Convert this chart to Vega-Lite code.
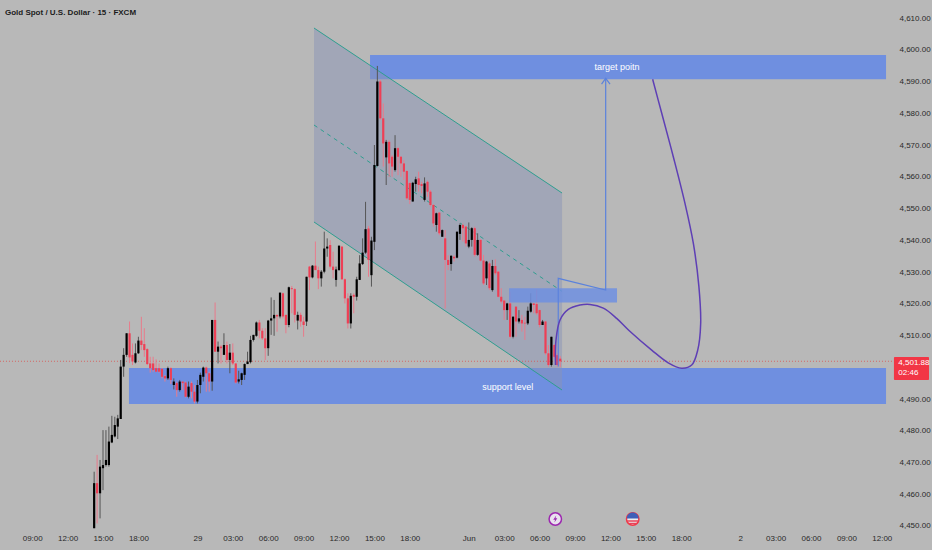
{
  "$schema": "https://vega.github.io/schema/vega-lite/v6.json",
  "description": "Gold Spot / U.S. Dollar 15 minute candles with a falling channel and support and target zones",
  "width": 890,
  "height": 530,
  "autosize": "none",
  "padding": {"left": 0, "top": 0, "right": 42, "bottom": 20},
  "background": "#b8b8b8",
  "view": {"stroke": null},
  "config": {"font": "Liberation Sans"},
  "datasets": {
    "candles": [
      {"t":14.25,"o":4449.3,"h":4467.1,"l":4449.3,"c":4463.5},
      {"t":14.5,"o":4463.5,"h":4472.4,"l":4450.8,"c":4460.3},
      {"t":14.75,"o":4460.3,"h":4470.8,"l":4452.4,"c":4468.7},
      {"t":15,"o":4468.2,"h":4480.2,"l":4461.3,"c":4469.2},
      {"t":15.25,"o":4469.2,"h":4480.2,"l":4468.7,"c":4470.8},
      {"t":15.5,"o":4469.2,"h":4481.3,"l":4468.7,"c":4476.6},
      {"t":15.75,"o":4476.3,"h":4484.7,"l":4476.1,"c":4478.7},
      {"t":16,"o":4478.2,"h":4484.4,"l":4477.9,"c":4481.8},
      {"t":16.25,"o":4481.3,"h":4485,"l":4477.4,"c":4483.9},
      {"t":16.5,"o":4483.7,"h":4502.3,"l":4483.7,"c":4500.2},
      {"t":16.75,"o":4500.2,"h":4506,"l":4497,"c":4503.9},
      {"t":17,"o":4503.9,"h":4510.7,"l":4503.3,"c":4510.7},
      {"t":17.25,"o":4510.7,"h":4514.4,"l":4501.3,"c":4503.1},
      {"t":17.5,"o":4503.9,"h":4507.5,"l":4500.7,"c":4501.8},
      {"t":17.75,"o":4501.5,"h":4507.5,"l":4501.2,"c":4504.4},
      {"t":18,"o":4504.4,"h":4509.6,"l":4504.2,"c":4508.4},
      {"t":18.25,"o":4508.4,"h":4515.9,"l":4505.4,"c":4507},
      {"t":18.5,"o":4507.3,"h":4512.3,"l":4503.3,"c":4505.4},
      {"t":18.75,"o":4505.7,"h":4506,"l":4500.7,"c":4501},
      {"t":19,"o":4501.2,"h":4503.3,"l":4498.3,"c":4499.7},
      {"t":19.25,"o":4501.2,"h":4503.3,"l":4498.6,"c":4499.1},
      {"t":19.5,"o":4499.7,"h":4502.5,"l":4498.6,"c":4498.6},
      {"t":19.75,"o":4499.7,"h":4501.2,"l":4498.3,"c":4498.6},
      {"t":20,"o":4499.5,"h":4499.7,"l":4496.5,"c":4497},
      {"t":20.25,"o":4497.2,"h":4497.6,"l":4495.5,"c":4496.5},
      {"t":20.5,"o":4496.5,"h":4500.2,"l":4496,"c":4499.7},
      {"t":20.75,"o":4499.7,"h":4500,"l":4494.7,"c":4496},
      {"t":21,"o":4494.4,"h":4496.5,"l":4493,"c":4495.5},
      {"t":21.25,"o":4495,"h":4495.5,"l":4490.7,"c":4492.8},
      {"t":21.5,"o":4492.8,"h":4496,"l":4492.3,"c":4495.5},
      {"t":21.75,"o":4495.5,"h":4495.5,"l":4492.8,"c":4495},
      {"t":22,"o":4495.2,"h":4495.5,"l":4490.5,"c":4490.7},
      {"t":22.25,"o":4490.7,"h":4495.5,"l":4490.2,"c":4493.9},
      {"t":22.5,"o":4495,"h":4495.5,"l":4490.2,"c":4492.3},
      {"t":22.75,"o":4492.3,"h":4494.4,"l":4488.6,"c":4489.2},
      {"t":23,"o":4489.2,"h":4496,"l":4488.6,"c":4494.4},
      {"t":23.25,"o":4494.4,"h":4498.3,"l":4491.8,"c":4497.6},
      {"t":23.5,"o":4497,"h":4500.2,"l":4495.5,"c":4499.9},
      {"t":23.75,"o":4499.9,"h":4500.2,"l":4492.3,"c":4498.1},
      {"t":24,"o":4498.1,"h":4498.6,"l":4492.3,"c":4495.5},
      {"t":24.25,"o":4495.5,"h":4514.9,"l":4492.6,"c":4514.9},
      {"t":24.5,"o":4514.9,"h":4520.4,"l":4504.9,"c":4504.9},
      {"t":24.75,"o":4504.9,"h":4508.1,"l":4501.2,"c":4506.5},
      {"t":25,"o":4506.5,"h":4507,"l":4501.2,"c":4506},
      {"t":25.25,"o":4503.9,"h":4510.7,"l":4503.9,"c":4507},
      {"t":25.5,"o":4507,"h":4508.1,"l":4501.2,"c":4502.3},
      {"t":25.75,"o":4502.3,"h":4507.3,"l":4498.1,"c":4504.6},
      {"t":26,"o":4504.6,"h":4507.5,"l":4500.7,"c":4501.2},
      {"t":26.25,"o":4501.2,"h":4501.2,"l":4494.9,"c":4495.2},
      {"t":26.5,"o":4495.5,"h":4498.9,"l":4494.9,"c":4496.2},
      {"t":26.75,"o":4496,"h":4498.3,"l":4494.4,"c":4498.1},
      {"t":27,"o":4497.6,"h":4501.2,"l":4496,"c":4501},
      {"t":27.25,"o":4501,"h":4504.9,"l":4501,"c":4501.8},
      {"t":27.5,"o":4501.6,"h":4509.9,"l":4501.2,"c":4508.6},
      {"t":27.75,"o":4508.6,"h":4510.2,"l":4508.1,"c":4510.2},
      {"t":28,"o":4509.9,"h":4514.4,"l":4509.6,"c":4514.1},
      {"t":28.25,"o":4514.1,"h":4514.9,"l":4509.1,"c":4511.5},
      {"t":28.5,"o":4511.5,"h":4512.3,"l":4508.6,"c":4509.1},
      {"t":28.75,"o":4509.1,"h":4512.3,"l":4502.3,"c":4506},
      {"t":29,"o":4506,"h":4514.9,"l":4503.6,"c":4514.7},
      {"t":29.25,"o":4514.7,"h":4522,"l":4510.2,"c":4515.4},
      {"t":29.5,"o":4515.4,"h":4521.2,"l":4509.9,"c":4516.5},
      {"t":29.75,"o":4516.5,"h":4516.5,"l":4511.2,"c":4516},
      {"t":30,"o":4516,"h":4523.5,"l":4515.4,"c":4523.5},
      {"t":30.25,"o":4523.3,"h":4523.5,"l":4515.4,"c":4516},
      {"t":30.5,"o":4516.5,"h":4516.5,"l":4510.7,"c":4513.3},
      {"t":30.75,"o":4513.3,"h":4525.4,"l":4512.6,"c":4525.2},
      {"t":31,"o":4524.9,"h":4525.6,"l":4517,"c":4524.6},
      {"t":31.25,"o":4524.6,"h":4524.9,"l":4514.1,"c":4516.5},
      {"t":31.5,"o":4514.7,"h":4517.5,"l":4511.9,"c":4516.5},
      {"t":31.75,"o":4516.5,"h":4517.2,"l":4512.8,"c":4514.4},
      {"t":32,"o":4514.4,"h":4515.9,"l":4509.6,"c":4513.3},
      {"t":32.25,"o":4514.4,"h":4528.5,"l":4513,"c":4528.5},
      {"t":32.5,"o":4531.7,"h":4531.9,"l":4524.3,"c":4528.3},
      {"t":32.75,"o":4528.3,"h":4532.2,"l":4528,"c":4532},
      {"t":33,"o":4532,"h":4539.6,"l":4530.6,"c":4530.6},
      {"t":33.25,"o":4530.6,"h":4531.7,"l":4524.6,"c":4528},
      {"t":33.5,"o":4528,"h":4530.6,"l":4525.4,"c":4530.1},
      {"t":33.75,"o":4530.1,"h":4542.7,"l":4529.6,"c":4537.4},
      {"t":34,"o":4537.4,"h":4540.6,"l":4534.8,"c":4538},
      {"t":34.25,"o":4538.5,"h":4540,"l":4531.1,"c":4531.7},
      {"t":34.5,"o":4531.7,"h":4536.4,"l":4528,"c":4530.6},
      {"t":34.75,"o":4527.5,"h":4531.7,"l":4525.4,"c":4530.8},
      {"t":35,"o":4530.6,"h":4538.3,"l":4530.4,"c":4538.3},
      {"t":35.25,"o":4538,"h":4538.2,"l":4527.5,"c":4527.7},
      {"t":35.5,"o":4527.7,"h":4528,"l":4520.1,"c":4521.7},
      {"t":35.75,"o":4521.7,"h":4523.3,"l":4512.2,"c":4513.8},
      {"t":36,"o":4513.8,"h":4523.3,"l":4512.2,"c":4522.5},
      {"t":36.25,"o":4522.8,"h":4523.3,"l":4517,"c":4522.2},
      {"t":36.5,"o":4522.2,"h":4528.5,"l":4521,"c":4527.7},
      {"t":36.75,"o":4527.5,"h":4535.3,"l":4527.5,"c":4532.7},
      {"t":37,"o":4532.5,"h":4540.6,"l":4532.2,"c":4536.1},
      {"t":37.25,"o":4536.1,"h":4552.1,"l":4535.7,"c":4543.5},
      {"t":37.5,"o":4543.7,"h":4544.5,"l":4528.5,"c":4533.8},
      {"t":37.75,"o":4529,"h":4541.1,"l":4525.4,"c":4539.9},
      {"t":38,"o":4539.5,"h":4570,"l":4536.9,"c":4563.7},
      {"t":38.25,"o":4563.4,"h":4594.9,"l":4563.2,"c":4590},
      {"t":38.5,"o":4590,"h":4590.5,"l":4577.9,"c":4578.4},
      {"t":38.75,"o":4578.4,"h":4583.1,"l":4563.2,"c":4570.5},
      {"t":39,"o":4566.1,"h":4571.6,"l":4557.4,"c":4571},
      {"t":39.25,"o":4571,"h":4571.6,"l":4560,"c":4564.2},
      {"t":39.5,"o":4566.3,"h":4566.8,"l":4560,"c":4563.2},
      {"t":39.75,"o":4562.1,"h":4573.1,"l":4561.6,"c":4569},
      {"t":40,"o":4569,"h":4569.3,"l":4560.5,"c":4566.3},
      {"t":40.25,"o":4566.3,"h":4566.5,"l":4560,"c":4564.2},
      {"t":40.5,"o":4564.2,"h":4565.3,"l":4559,"c":4561.6},
      {"t":40.75,"o":4561.8,"h":4562.1,"l":4552.7,"c":4553.2},
      {"t":41,"o":4558,"h":4558.4,"l":4551.4,"c":4552.7},
      {"t":41.25,"o":4552.2,"h":4558.4,"l":4552.2,"c":4558.1},
      {"t":41.5,"o":4557.7,"h":4560,"l":4555.3,"c":4559.2},
      {"t":41.75,"o":4559.5,"h":4561.6,"l":4555.3,"c":4557.4},
      {"t":42,"o":4557.7,"h":4558.4,"l":4554.8,"c":4557.1},
      {"t":42.25,"o":4552.7,"h":4559.8,"l":4552.2,"c":4557.9},
      {"t":42.5,"o":4558.4,"h":4558.8,"l":4553.7,"c":4555.3},
      {"t":42.75,"o":4555.3,"h":4555.8,"l":4550.6,"c":4551.1},
      {"t":43,"o":4551.1,"h":4551.4,"l":4544.3,"c":4545.3},
      {"t":43.25,"o":4544.8,"h":4548.7,"l":4542.7,"c":4548.5},
      {"t":43.5,"o":4548.7,"h":4548.9,"l":4541.6,"c":4542.2},
      {"t":43.75,"o":4541.1,"h":4543.4,"l":4541.1,"c":4543.2},
      {"t":44,"o":4540.6,"h":4543.2,"l":4518.5,"c":4533.8},
      {"t":44.25,"o":4533.8,"h":4535.3,"l":4530.6,"c":4532.2},
      {"t":44.5,"o":4532.5,"h":4535.3,"l":4530.4,"c":4535.1},
      {"t":44.75,"o":4534.8,"h":4535.3,"l":4533.3,"c":4534.3},
      {"t":45,"o":4534.5,"h":4542.7,"l":4534.3,"c":4542.7},
      {"t":45.25,"o":4542,"h":4545.3,"l":4540.1,"c":4544.8},
      {"t":45.5,"o":4544.8,"h":4545.3,"l":4539.6,"c":4543.8},
      {"t":45.75,"o":4544.3,"h":4544.5,"l":4538,"c":4539},
      {"t":46,"o":4538,"h":4545.6,"l":4537.5,"c":4540.1},
      {"t":46.25,"o":4540.1,"h":4544.1,"l":4538,"c":4543.8},
      {"t":46.5,"o":4543.8,"h":4544.3,"l":4534.8,"c":4535.4},
      {"t":46.75,"o":4535.4,"h":4542.2,"l":4535.1,"c":4540.1},
      {"t":47,"o":4540.1,"h":4540.3,"l":4533.3,"c":4533.6},
      {"t":47.25,"o":4533.6,"h":4535.4,"l":4525.9,"c":4526.4},
      {"t":47.5,"o":4528,"h":4533.5,"l":4525.9,"c":4533.3},
      {"t":47.75,"o":4532.7,"h":4533.3,"l":4524.3,"c":4524.9},
      {"t":48,"o":4524.3,"h":4533.8,"l":4523.8,"c":4531.9},
      {"t":48.25,"o":4531.9,"h":4534,"l":4529,"c":4529.6},
      {"t":48.5,"o":4530.1,"h":4530.3,"l":4522,"c":4522.2},
      {"t":48.75,"o":4522.2,"h":4524.9,"l":4520.1,"c":4520.7},
      {"t":49,"o":4521,"h":4521.2,"l":4514.9,"c":4518},
      {"t":49.25,"o":4518,"h":4520.3,"l":4514.9,"c":4520.1},
      {"t":49.5,"o":4520.1,"h":4523.8,"l":4509.1,"c":4509.6},
      {"t":49.75,"o":4509.6,"h":4516.1,"l":4509.1,"c":4515.9},
      {"t":50,"o":4519.1,"h":4519.1,"l":4509.6,"c":4514.4},
      {"t":50.25,"o":4514.4,"h":4518,"l":4513.8,"c":4515.4},
      {"t":50.5,"o":4514.9,"h":4516.5,"l":4511.2,"c":4513.8},
      {"t":50.75,"o":4514,"h":4515.9,"l":4508.6,"c":4513.8},
      {"t":51,"o":4513.8,"h":4519.1,"l":4513.3,"c":4517.8},
      {"t":51.25,"o":4517.5,"h":4523.3,"l":4517.2,"c":4520.1},
      {"t":51.5,"o":4520.1,"h":4520.1,"l":4517,"c":4519.6},
      {"t":51.75,"o":4519.9,"h":4524.5,"l":4516.5,"c":4517},
      {"t":52,"o":4518,"h":4518.2,"l":4512.6,"c":4513.3},
      {"t":52.25,"o":4513.3,"h":4514.9,"l":4513.3,"c":4514.4},
      {"t":52.5,"o":4514.4,"h":4514.6,"l":4503.9,"c":4504.4},
      {"t":52.75,"o":4504.4,"h":4507,"l":4500.2,"c":4500.7},
      {"t":53,"o":4500.7,"h":4509.6,"l":4500.2,"c":4509.6},
      {"t":53.25,"o":4507,"h":4507.3,"l":4502.8,"c":4503.3},
      {"t":53.5,"o":4503.8,"h":4504.4,"l":4500.2,"c":4500.7},
      {"t":53.75,"o":4502.7,"h":4503.5,"l":4500,"c":4501.88}
    ],
    "channel": [
      {"t":32.88,"p":4606.85,"p2":4545.75},
      {"t":53.9,"p":4554.88,"p2":4492.83}
    ],
    "midline": [
      {"t":32.88,"p":4576.3},
      {"t":53.9,"p":4523.9}
    ],
    "zones": [
      {"t":37.63,"t2":81.36,"p":4598.35,"p2":4590.7},
      {"t":17.2,"t2":81.36,"p":4499.76,"p2":4488.4}
    ],
    "entryZone": [
      {"t":49.41,"t2":58.56,"p":4524.9,"p2":4520.4}
    ],
    "lastPrice": [
      {"t":6.27,"p":4501.88},
      {"t":82.03,"p":4501.88}
    ],
    "arrow": [
      {"i":1,"seg":"shaft","t":53.58,"p":4500.2},
      {"i":2,"seg":"shaft","t":53.58,"p":4528},
      {"i":3,"seg":"shaft","t":57.6,"p":4524.3},
      {"i":4,"seg":"shaft","t":57.6,"p":4591},
      {"i":5,"seg":"head","t":57.25,"p":4589.2},
      {"i":6,"seg":"head","t":57.6,"p":4591},
      {"i":7,"seg":"head","t":57.97,"p":4589.2}
    ],
    "forecast": [
      {"i":1,"t":53.35,"p":4500.7},
      {"i":2,"t":53.39,"p":4508.6},
      {"i":3,"t":53.73,"p":4514.9},
      {"i":4,"t":54.43,"p":4518.2},
      {"i":5,"t":55.42,"p":4519.6},
      {"i":6,"t":56.27,"p":4519.8},
      {"i":7,"t":57.4,"p":4518.6},
      {"i":8,"t":58.53,"p":4515.4},
      {"i":9,"t":59.6,"p":4511.5},
      {"i":10,"t":61.5,"p":4505.4},
      {"i":11,"t":62.9,"p":4501.4},
      {"i":12,"t":64.04,"p":4499.7},
      {"i":13,"t":64.89,"p":4500.7},
      {"i":14,"t":65.4,"p":4505.4},
      {"i":15,"t":65.65,"p":4513.8},
      {"i":16,"t":65.5,"p":4525.4},
      {"i":17,"t":65.03,"p":4539},
      {"i":18,"t":64.32,"p":4551.6},
      {"i":19,"t":63.33,"p":4566.3},
      {"i":20,"t":62.35,"p":4580},
      {"i":21,"t":61.58,"p":4590.7}
    ]
  },
  "encoding": {
    "x": {
      "field": "t",
      "type": "quantitative",
      "scale": {"domain": [6.271, 81.695], "nice": false, "zero": false, "padding": 0},
      "axis": {
        "title": null,
        "grid": false,
        "domain": false,
        "ticks": false,
        "orient": "bottom",
        "values": [9,12,15,18,23,26,29,32,35,38,41,46,49,52,55,58,61,64,69,72,75,78,81],
        "labelExpr": "{'9':'09:00','12':'12:00','15':'15:00','18':'18:00','23':'29','26':'03:00','29':'06:00','32':'09:00','35':'12:00','38':'15:00','41':'18:00','46':'Jun','49':'03:00','52':'06:00','55':'09:00','58':'12:00','61':'15:00','64':'18:00','69':'2','72':'03:00','75':'06:00','78':'09:00','81':'12:00'}[datum.value]",
        "labelColor": "#2a2a2a",
        "labelFont": "Liberation Sans",
        "labelFontSize": 8,
        "labelPadding": 4,
        "labelFlush": false,
        "labelOverlap": false
      }
    },
    "y": {
      "field": "p",
      "type": "quantitative",
      "scale": {"domain": [4448.74, 4615.67], "nice": false, "zero": false},
      "axis": {
        "title": null,
        "grid": false,
        "domain": false,
        "ticks": false,
        "orient": "right",
        "values": [4450,4460,4470,4480,4490,4510,4520,4530,4540,4550,4560,4570,4580,4590,4600,4610],
        "format": ",.2f",
        "labelColor": "#2a2a2a",
        "labelFont": "Liberation Sans",
        "labelFontSize": 8,
        "labelPadding": 9,
        "labelFlush": false,
        "labelOverlap": false
      }
    }
  },
  "layer": [
    {
      "data": {"name": "zones"},
      "mark": {"type": "rect", "color": "#6f8fe0"},
      "encoding": {"x2": {"field": "t2"}, "y2": {"field": "p2"}}
    },
    {
      "data": {"name": "channel"},
      "mark": {"type": "area", "color": "#8a94b5", "opacity": 0.5},
      "encoding": {"y2": {"field": "p2"}}
    },
    {
      "data": {"name": "channel"},
      "mark": {"type": "line", "color": "#2f9e8f", "strokeWidth": 1},
      "encoding": {}
    },
    {
      "data": {"name": "channel"},
      "mark": {"type": "line", "color": "#2f9e8f", "strokeWidth": 1},
      "encoding": {"y": {"field": "p2", "type": "quantitative", "title": null, "scale": {"domain": [4448.74, 4615.67], "nice": false, "zero": false}}}
    },
    {
      "data": {"name": "midline"},
      "mark": {"type": "line", "color": "#2f9e8f", "strokeWidth": 1, "strokeDash": [4, 4]},
      "encoding": {}
    },
    {
      "data": {"name": "lastPrice"},
      "mark": {"type": "line", "color": "#d9534f", "strokeWidth": 1, "strokeDash": [1, 2], "opacity": 0.8},
      "encoding": {}
    },
    {
      "data": {"name": "candles"},
      "mark": {"type": "rule", "strokeWidth": 1},
      "encoding": {
        "y": {"field": "l", "type": "quantitative", "title": null, "scale": {"domain": [4448.74, 4615.67], "nice": false, "zero": false}},
        "y2": {"field": "h"},
        "color": {"condition": {"test": "datum.c >= datum.o", "value": "#555555"}, "value": "#e87b8b"}
      }
    },
    {
      "data": {"name": "candles"},
      "mark": {"type": "bar", "size": 2.2},
      "encoding": {
        "y": {"field": "o", "type": "quantitative", "title": null, "scale": {"domain": [4448.74, 4615.67], "nice": false, "zero": false}},
        "y2": {"field": "c"},
        "color": {"condition": {"test": "datum.c >= datum.o", "value": "#000000"}, "value": "#ee3f55"}
      }
    },
    {
      "data": {"name": "entryZone"},
      "mark": {"type": "rect", "color": "#6f8fe0", "opacity": 0.85},
      "encoding": {"x2": {"field": "t2"}, "y2": {"field": "p2"}}
    },
    {
      "data": {"name": "arrow"},
      "mark": {"type": "line", "color": "#5b82dc", "strokeWidth": 1.2},
      "encoding": {"detail": {"field": "seg"}, "order": {"field": "i"}}
    },
    {
      "data": {"name": "forecast"},
      "mark": {"type": "line", "color": "#5e3fb5", "strokeWidth": 1.5, "interpolate": "catmull-rom"},
      "encoding": {"order": {"field": "i"}}
    },
    {
      "data": {"values": [
        {"t": 58.56, "p": 4594.5, "label": "target poitn"},
        {"t": 49.3, "p": 4493.8, "label": "support level"}
      ]},
      "mark": {"type": "text", "color": "#ffffff", "fontSize": 9, "align": "center", "baseline": "middle"},
      "encoding": {"text": {"field": "label"}}
    },
    {
      "data": {"values": [
        {"t": 6.69, "p": 4611.6, "label": "Gold Spot / U.S. Dollar · 15 · FXCM"}
      ]},
      "mark": {"type": "text", "color": "#1c1c1c", "fontSize": 8, "fontWeight": "bold", "align": "left", "baseline": "middle"},
      "encoding": {"text": {"field": "label"}}
    },
    {
      "data": {"values": [{"t": 82.03, "t2": 85, "p": 4503.2, "p2": 4496}]},
      "mark": {"type": "rect", "color": "#f23645", "cornerRadius": 1},
      "encoding": {"x2": {"field": "t2"}, "y2": {"field": "p2"}}
    },
    {
      "data": {"values": [
        {"t": 82.4, "p": 4501.4, "label": "4,501.88"},
        {"t": 82.4, "p": 4498.2, "label": "02:46"}
      ]},
      "mark": {"type": "text", "color": "#ffffff", "fontSize": 8, "align": "left", "baseline": "middle"},
      "encoding": {"text": {"field": "label"}}
    },
    {
      "data": {"values": [{"t": 53.33, "p": 4452.2}]},
      "mark": {"type": "point", "shape": "circle", "size": 154, "filled": true, "fill": "#e9e2ee", "stroke": "#9c27b0", "strokeWidth": 1.5, "opacity": 1},
      "encoding": {}
    },
    {
      "data": {"values": [{"t": 53.33, "p": 4452.2}]},
      "mark": {"type": "point", "shape": "M0.2,-0.8 L-0.45,0.15 L-0.05,0.15 L-0.2,0.8 L0.45,-0.15 L0.05,-0.15 Z", "size": 81, "filled": true, "fill": "#9c27b0", "opacity": 1},
      "encoding": {}
    },
    {
      "data": {"values": [{"t": 59.89, "p": 4452.2}]},
      "mark": {"type": "point", "shape": "circle", "size": 154, "filled": true, "fill": "#eeeeee", "stroke": "#f23645", "strokeWidth": 1.5, "opacity": 1},
      "encoding": {}
    },
    {
      "data": {"values": [{"t": 59.89, "p": 4452.2}]},
      "mark": {"type": "point", "shape": "M-1,-0.1 A1,1 0 0 1 1,-0.1 Z", "size": 140, "filled": true, "fill": "#3f5fb8", "opacity": 1},
      "encoding": {}
    },
    {
      "data": {"values": [{"t": 59.89, "p": 4452.2}]},
      "mark": {"type": "point", "shape": "M-1,0.2 L1,0.2 L0.95,0.45 L-0.95,0.45 Z M-0.8,0.65 L0.8,0.65 L0.55,0.88 L-0.55,0.88 Z", "size": 140, "filled": true, "fill": "#e8435a", "opacity": 1},
      "encoding": {}
    }
  ]
}
